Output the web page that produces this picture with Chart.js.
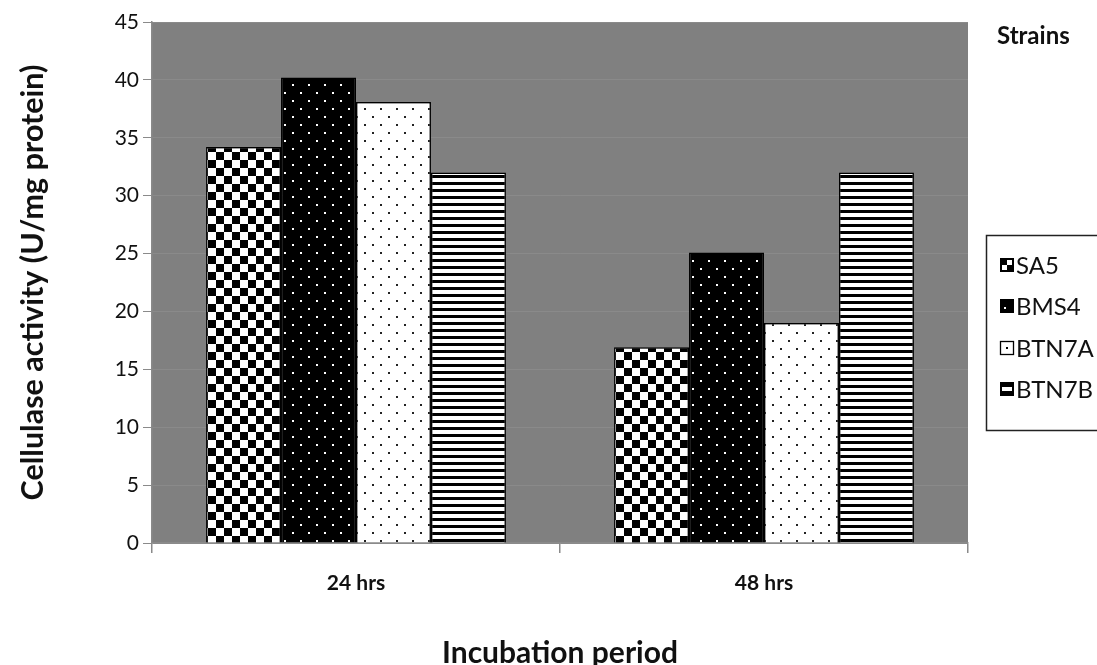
<!DOCTYPE html>
<html>
<head>
<meta charset="utf-8">
<script src="https://cdn.jsdelivr.net/npm/chart.js@4"></script>
<style>
html,body{margin:0;padding:0;background:#fff;}
canvas{display:block;}
</style>
</head>
<body>
<canvas id="c" width="1097" height="665"></canvas>
<script>
const categories = ['24 hrs', '48 hrs'];
const SA5 = [34.2, 16.9];
const BMS4 = [40.2, 25.1];
const BTN7A = [38.1, 19.0];
const BTN7B = [32.0, 32.0];
const seriesNames = ['SA5', 'BMS4', 'BTN7A', 'BTN7B'];
const yTicks = [0, 5, 10, 15, 20, 25, 30, 35, 40, 45];

const FONT = 'Lato, "Open Sans", sans-serif';

function makePattern(w, h, draw) {
  const c = document.createElement('canvas');
  c.width = w; c.height = h;
  const g = c.getContext('2d');
  draw(g);
  return document.getElementById('c').getContext('2d').createPattern(c, 'repeat');
}
const pChecker = makePattern(16, 16, g => {
  g.fillStyle = '#fff'; g.fillRect(0, 0, 16, 16);
  g.fillStyle = '#000'; g.fillRect(0, 0, 8, 8); g.fillRect(8, 8, 8, 8);
});
const pBlackDots = makePattern(16, 16, g => {
  g.fillStyle = '#000'; g.fillRect(0, 0, 16, 16);
  g.fillStyle = '#fff'; g.fillRect(4, 4, 2, 2); g.fillRect(12, 12, 2, 2);
});
const pWhiteDots = makePattern(16, 16, g => {
  g.fillStyle = '#fff'; g.fillRect(0, 0, 16, 16);
  g.fillStyle = '#222'; g.fillRect(4, 4, 2, 2); g.fillRect(12, 12, 2, 2);
});
const pStripes = makePattern(8, 7, g => {
  g.fillStyle = '#fff'; g.fillRect(0, 0, 8, 7);
  g.fillStyle = '#000'; g.fillRect(0, 0, 8, 3);
});
const fills = [pChecker, pBlackDots, pWhiteDots, pStripes];
const seriesData = [SA5, BMS4, BTN7A, BTN7B];

const bgPlugin = {
  id: 'bg',
  beforeDraw(chart) {
    const a = chart.chartArea, ctx = chart.ctx;
    ctx.save();
    ctx.fillStyle = '#808080';
    ctx.fillRect(a.left, a.top, a.right - a.left, a.bottom - a.top);
    ctx.restore();
  },
  afterDraw(chart) {
    const ctx = chart.ctx;
    ctx.save();
    ctx.fillStyle = '#111';
    ctx.font = 'bold 24px ' + FONT;
    ctx.textBaseline = 'middle';
    ctx.textAlign = 'left';
    ctx.fillText('Strains', 997, 36);
    ctx.strokeStyle = '#222';
    ctx.lineWidth = 1.5;
    ctx.strokeRect(986.5, 235.5, 130, 195);
    const ys = [265, 306, 348, 389];
    chart.data.datasets.forEach((ds, i) => {
      const y = ys[i];
      const x = 1000, s = 14;
      const top = y - s / 2;
      ctx.lineWidth = 1.3;
      if (i === 0) {
        ctx.fillStyle = '#000'; ctx.fillRect(x, top, s, s);
        ctx.fillStyle = '#fff';
        ctx.fillRect(x + 7, top + 2, 5, 5);
        ctx.fillRect(x + 2, top + 7, 5, 5);
      } else if (i === 1) {
        ctx.fillStyle = '#000'; ctx.fillRect(x, top, s, s);
        ctx.fillStyle = '#fff'; ctx.fillRect(x + 4, top + 8, 2, 2);
      } else if (i === 2) {
        ctx.fillStyle = '#fff'; ctx.fillRect(x, top, s, s);
        ctx.strokeStyle = '#000'; ctx.strokeRect(x + 0.5, top + 0.5, s - 1, s - 1);
        ctx.fillStyle = '#000'; ctx.fillRect(x + 6, top + 6, 2, 2);
      } else {
        ctx.fillStyle = '#000'; ctx.fillRect(x, top, s, s);
        ctx.fillStyle = '#fff'; ctx.fillRect(x + 2, top + 5, s - 4, 4);
      }
      ctx.fillStyle = '#111';
      ctx.font = '24px ' + FONT;
      ctx.textAlign = 'left';
      ctx.textBaseline = 'middle';
      ctx.fillText(ds.label, x + s + 2, y + 1);
    });
    ctx.restore();
  }
};

new Chart(document.getElementById('c'), {
  type: 'bar',
  data: {
    labels: categories,
    datasets: seriesNames.map((n, i) => ({
      label: n,
      data: seriesData[i],
      backgroundColor: fills[i],
      borderColor: '#000',
      borderWidth: 1.5,
      categoryPercentage: 0.735,
      barPercentage: 1.0
    }))
  },
  options: {
    responsive: false,
    animation: false,
    layout: { padding: { left: 0, top: 22, right: 129, bottom: 0 } },
    plugins: { legend: { display: false }, tooltip: { enabled: false } },
    scales: {
      x: {
        afterFit(s) { s.height = 122; },
        grid: { offset: true, drawOnChartArea: false, tickColor: '#8a8a8a', tickLength: 10, lineWidth: 1.5 },
        border: { color: '#8a8a8a', width: 1.5 },
        ticks: { color: '#111', padding: 18, font: { family: FONT, size: 21, weight: 'bold' } },
        title: { display: true, text: 'Incubation period', color: '#111',
          font: { family: FONT, size: 30, weight: 'bold' }, padding: { top: 0, bottom: -6 } }
      },
      y: {
        min: 0, max: 45,
        afterFit(s) { s.width = 152; },
        afterBuildTicks(s) { s.ticks = yTicks.map(v => ({ value: v })); },
        grid: { color: '#8a8a8a', tickColor: '#8a8a8a', tickLength: 9, lineWidth: 1 },
        border: { color: '#8a8a8a', width: 1.5 },
        ticks: { color: '#111', padding: 4, font: { family: FONT, size: 21 } },
        title: { display: true, text: 'Cellulase activity (U/mg protein)', color: '#111',
          font: { family: FONT, size: 30.5, weight: 'bold' }, padding: { top: 15, bottom: 0 } }
      }
    }
  },
  plugins: [bgPlugin]
});
</script>
</body>
</html>
